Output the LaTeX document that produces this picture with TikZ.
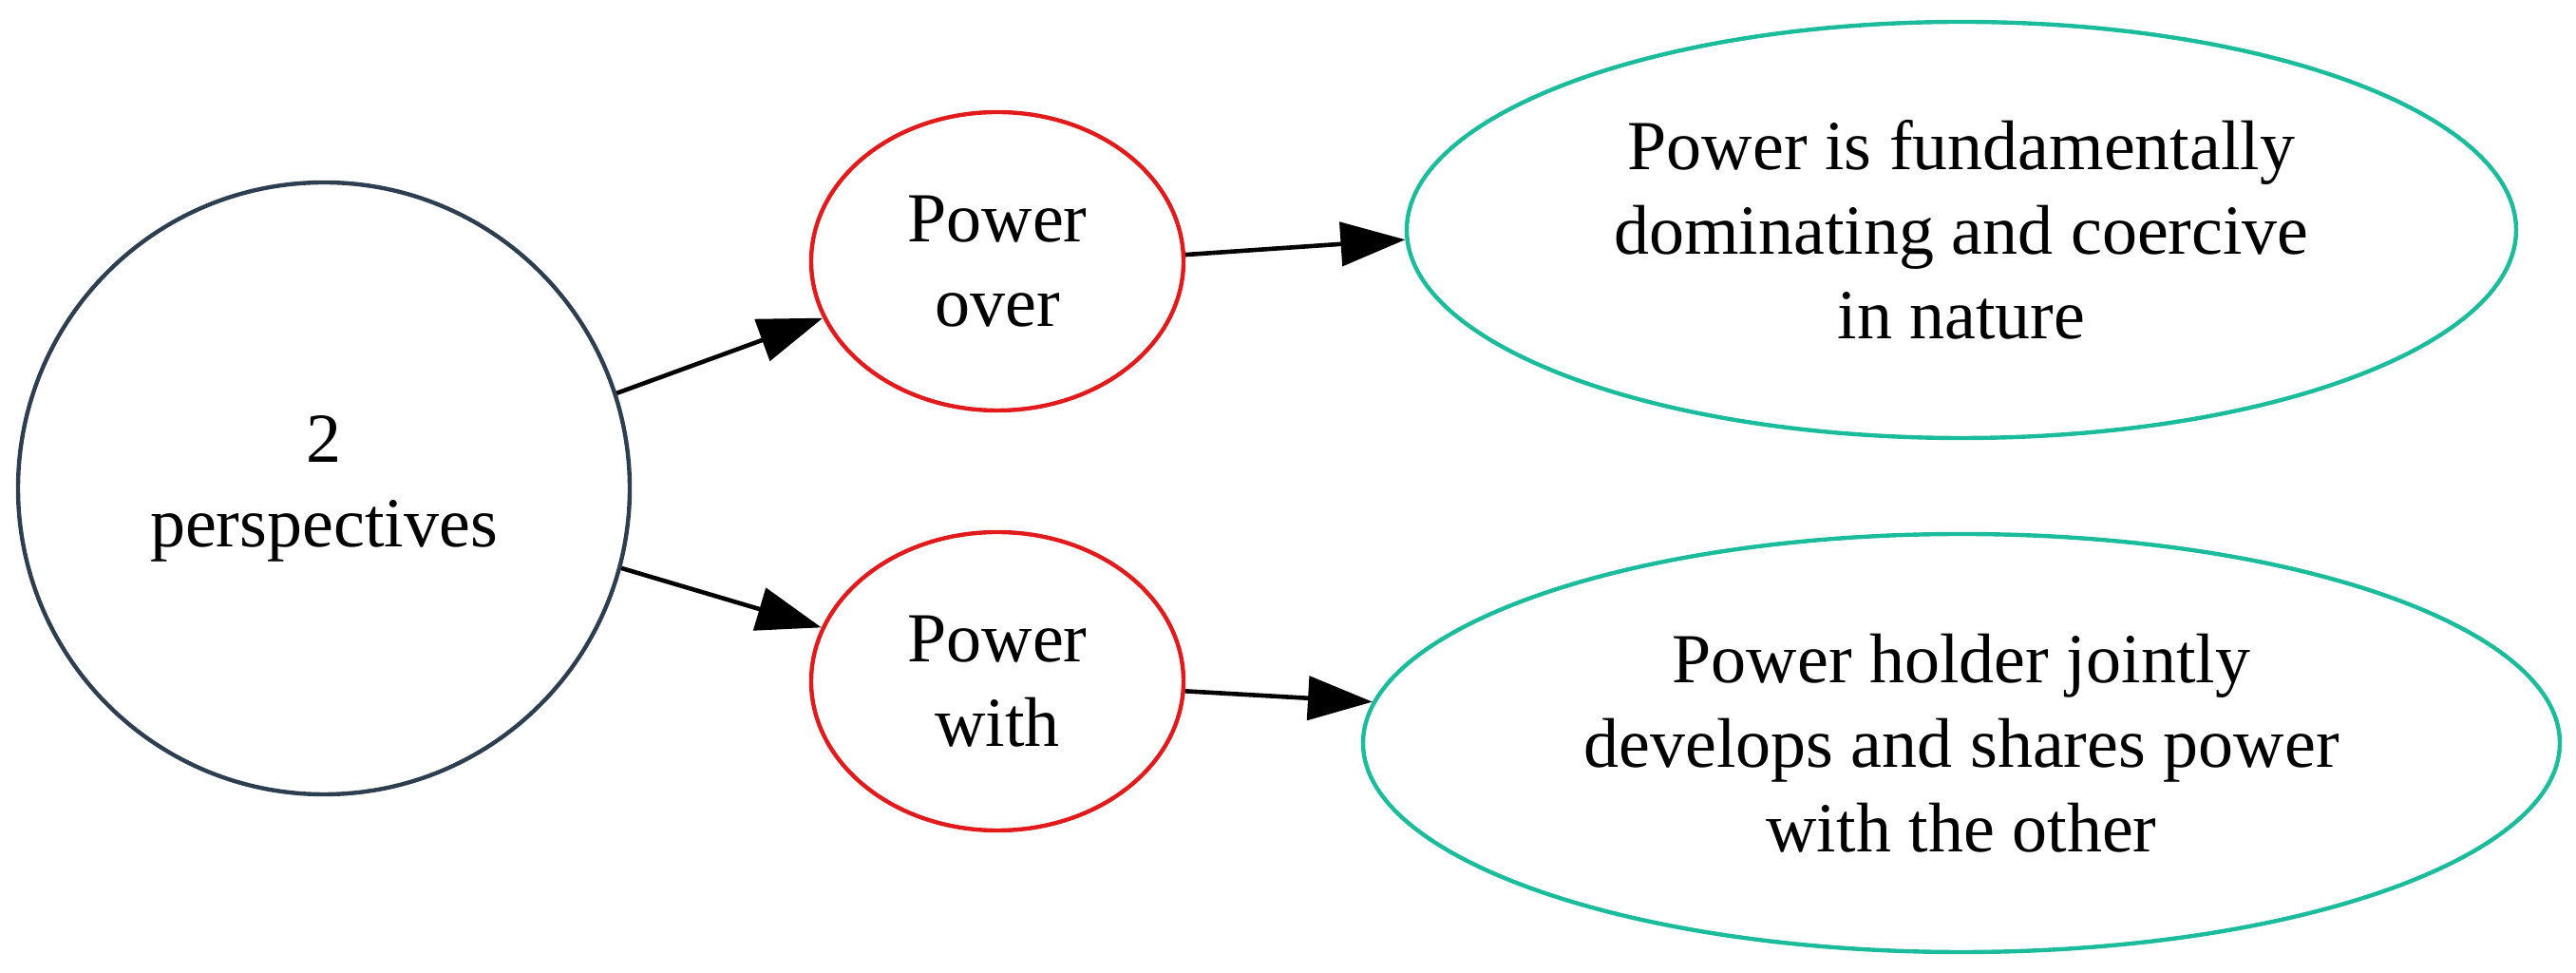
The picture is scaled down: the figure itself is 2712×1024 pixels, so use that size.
\documentclass[tikz,border=0pt]{standalone}
\usepackage{fontspec}
\setmainfont{Liberation Serif}
\usetikzlibrary{shapes.geometric,arrows.meta}
\definecolor{slate}{HTML}{2C3E50}
\definecolor{redc}{HTML}{E31A1C}
\definecolor{teal}{HTML}{1ABC9C}
\begin{document}
\begin{tikzpicture}[x=0.25pt,y=-0.25pt,
  base/.style={draw,line width=1.1pt,inner sep=0pt,align=center,font=\fontsize{18.5pt}{22.2pt}\selectfont},
  rootnode/.style={base,circle,draw=slate,minimum size=161pt},
  midnode/.style={base,ellipse,draw=redc,minimum width=98pt,minimum height=78.5pt},
  leafnode/.style={base,ellipse,draw=teal},
  conn/.style={line width=1.15pt,-{Triangle[length=17pt,width=11.5pt]}}]
\useasboundingbox (0,0) rectangle (2712,1024);
\node[rootnode] (root) at (341,514) {2\\perspectives};
\node[midnode] (over) at (1050,275) {Power\\over};
\node[midnode] (with) at (1050,717) {Power\\with};
\node[leafnode,minimum width=292pt,minimum height=109.5pt] (dom) at (2065,242) {Power is fundamentally\\dominating and coercive\\in nature};
\node[leafnode,minimum width=315pt,minimum height=110pt] (share) at (2065,782) {Power holder jointly\\develops and shares power\\with the other};
\draw[conn] (root.18.5) -- (over.198);
\draw[conn] (root.-15.9) -- (with.163.9);
\draw[conn] (over.2) -- (dom.181.7);
\draw[conn] (with.-3.8) -- (share.176.3);
\end{tikzpicture}
\end{document}
